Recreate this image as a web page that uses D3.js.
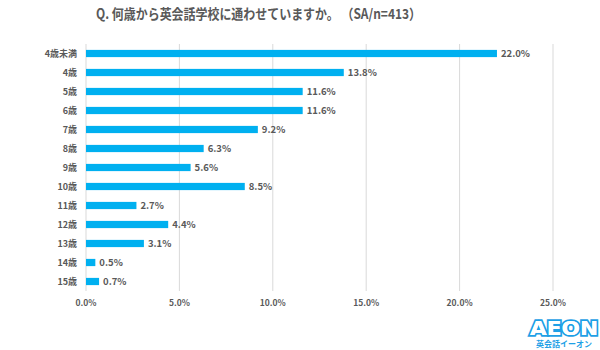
<!DOCTYPE html>
<meta charset="utf-8">
<script src="https://d3js.org/d3.v7.min.js"></script>
<style>
  body { margin: 0; background: #fff; }
  svg { font-family: "Noto Sans CJK JP", "Noto Sans", sans-serif; }
</style>
<div id="chart"></div>
<script>
var categories = ["4歳未満", "4歳", "5歳", "6歳", "7歳", "8歳", "9歳", "10歳", "11歳", "12歳", "13歳", "14歳", "15歳"];
var values = [22.0, 13.8, 11.6, 11.6, 9.2, 6.3, 5.6, 8.5, 2.7, 4.4, 3.1, 0.5, 0.7];
var ticks = [0, 5, 10, 15, 20, 25];
var title = "Q. 何歳から英会話学校に通わせていますか。 （SA/n=413）";

var W = 600, H = 350;
var margin = { top: 44, left: 86, right: 47, bottom: 59 };
var svg = d3.select("#chart").append("svg").attr("width", W).attr("height", H);

var x = d3.scaleLinear().domain([0, 25]).range([margin.left, W - margin.right]);
var y = d3.scaleBand().domain(categories).range([margin.top, H - margin.bottom]).paddingInner(0.62).paddingOuter(0.31);

var grey = "#595959";

svg.append("text")
    .attr("x", 96).attr("y", 19)
    .attr("font-size", 14).attr("font-weight", "bold")
    .attr("fill", grey)
    .attr("textLength", 325).attr("lengthAdjust", "spacingAndGlyphs")
    .text(title);

// gridlines
svg.append("g").selectAll("line").data(ticks).enter().append("line")
    .attr("x1", function(d) { return x(d); }).attr("x2", function(d) { return x(d); })
    .attr("y1", margin.top).attr("y2", H - margin.bottom)
    .attr("stroke", "#d9d9d9").attr("stroke-width", 1);

// tick labels
svg.append("g").selectAll("text").data(ticks).enter().append("text")
    .attr("x", function(d) { return x(d); }).attr("y", 306)
    .attr("text-anchor", "middle").attr("font-size", 8.5).attr("font-weight", "bold")
    .attr("fill", grey)
    .text(function(d) { return d.toFixed(1) + "%"; });

// category labels
svg.append("g").selectAll("text").data(categories).enter().append("text")
    .attr("x", 77).attr("y", function(d) { return y(d) + y.bandwidth() / 2 + 3.3; })
    .attr("text-anchor", "end").attr("font-size", 9).attr("font-weight", "bold")
    .attr("fill", grey)
    .text(function(d) { return d; });

// bars
svg.append("g").selectAll("rect").data(values).enter().append("rect")
    .attr("x", x(0)).attr("y", function(d, i) { return y(categories[i]); })
    .attr("width", function(d) { return x(d) - x(0); })
    .attr("height", y.bandwidth())
    .attr("fill", "#00b0f0");

// value labels
svg.append("g").selectAll("text").data(values).enter().append("text")
    .attr("x", function(d) { return x(d) + 4; })
    .attr("y", function(d, i) { return y(categories[i]) + y.bandwidth() / 2 + 3.5; })
    .attr("font-size", 9.5).attr("font-weight", "bold")
    .attr("fill", grey)
    .text(function(d) { return d.toFixed(1) + "%"; });

// logo
var logo = svg.append("g");
logo.append("text")
    .attr("x", 564).attr("y", 335)
    .attr("text-anchor", "middle").attr("font-size", 19).attr("font-weight", "900")
    .attr("font-family", "DejaVu Sans")
    .attr("fill", "#ffffff").attr("stroke", "#1ea0e6").attr("stroke-width", 3.5)
    .attr("paint-order", "stroke")
    .attr("textLength", 68).attr("lengthAdjust", "spacingAndGlyphs")
    .text("AEON");
logo.append("text")
    .attr("x", 564).attr("y", 335)
    .attr("text-anchor", "middle").attr("font-size", 19).attr("font-weight", "900")
    .attr("font-family", "DejaVu Sans")
    .attr("fill", "#ffffff")
    .attr("textLength", 68).attr("lengthAdjust", "spacingAndGlyphs")
    .text("AEON");
logo.append("text")
    .attr("x", 564).attr("y", 347)
    .attr("text-anchor", "middle").attr("font-size", 8).attr("font-weight", "bold")
    .attr("fill", "#1ea0e6")
    .text("英会話イーオン");
</script>
